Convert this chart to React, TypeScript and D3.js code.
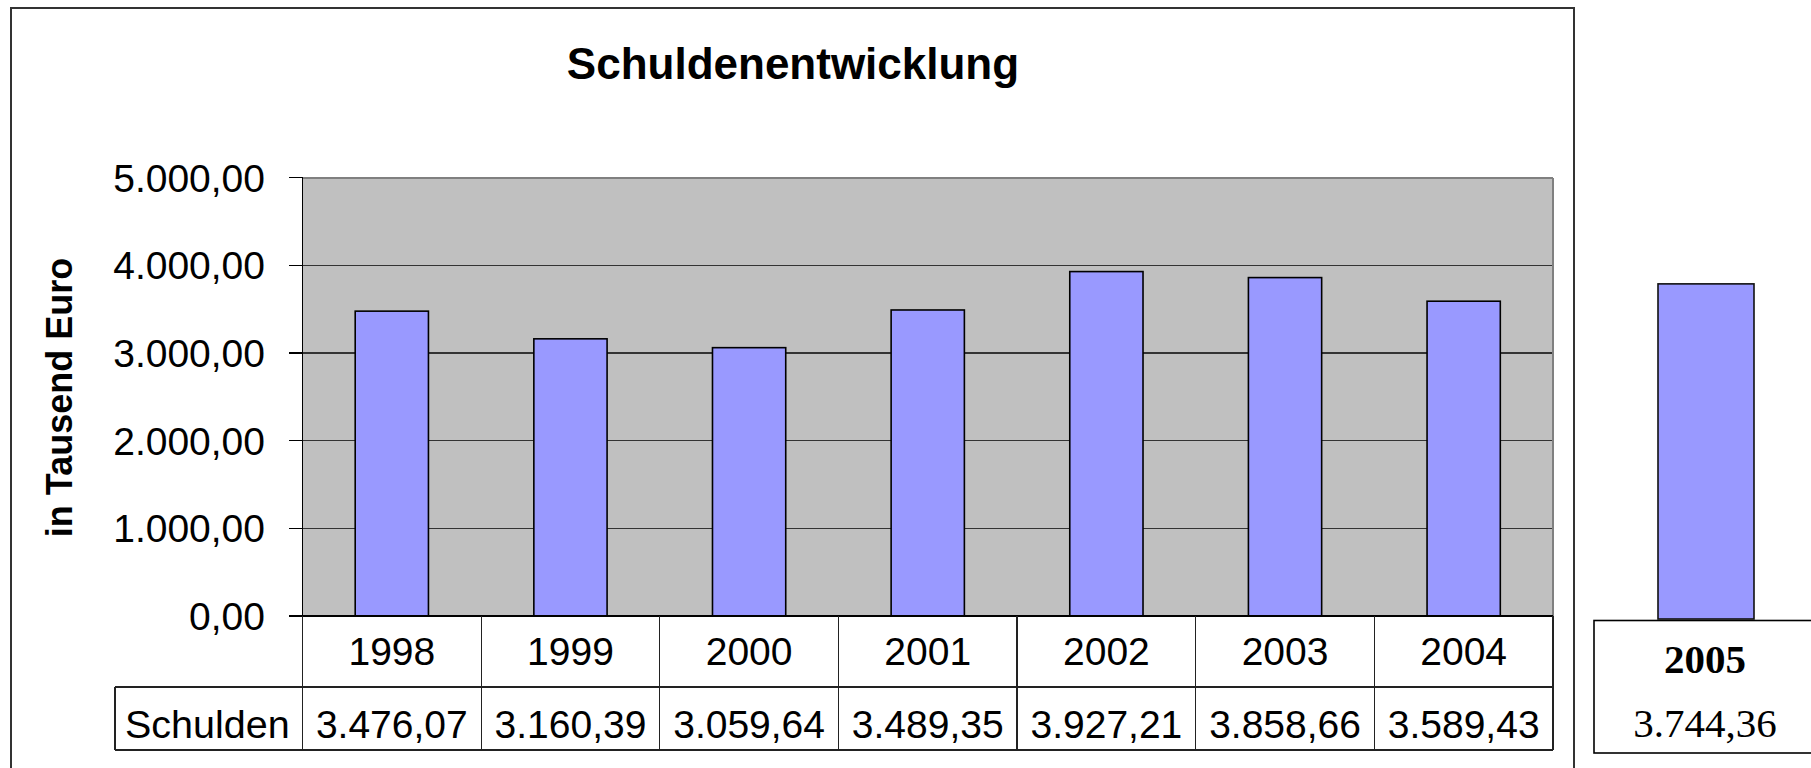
import React from 'react';
import * as d3 from 'd3';

const TITLE = 'Schuldenentwicklung';
const Y_LABEL = 'in Tausend Euro';
const ROW_LABEL = 'Schulden';
const YEARS = ['1998', '1999', '2000', '2001', '2002', '2003', '2004'];
const SCHULDEN = [3476.07, 3160.39, 3059.64, 3489.35, 3927.21, 3858.66, 3589.43];
const Y_TICKS = [0, 1000, 2000, 3000, 4000, 5000];
const EXTRA_YEAR = ['2005'];
const EXTRA_VALUE = [3744.36];

const W = 1811;
const H = 768;
const SANS = '"Liberation Sans", Arial, sans-serif';
const SERIF = '"Liberation Serif", "Times New Roman", serif';

const de = d3.formatLocale({ decimal: ',', thousands: '.', grouping: [3], currency: ['', ' €'] });
const fmt = de.format(',.2f');

const App: React.FC = () => {
  // main plot area
  const left = 302.5, right = 1553, top = 177.5, bottom = 616;
  const rowYear = 687, rowVal = 750, labelLeft = 115;

  const x = d3.scaleBand<string>().domain(YEARS).range([left, right]).padding(0);
  const y = d3.scaleLinear().domain([0, 5000]).range([bottom, top]);
  const barW = x.bandwidth() * 0.41;

  // separate 2005 panel
  const x2 = d3.scaleBand<string>().domain(EXTRA_YEAR).range([1594, 1818]).padding(0);
  const y2 = d3.scaleLinear().domain([0, 5000]).range([619, 619 - 5 * 89.5]);
  const bar2W = 96;

  const bounds = [...YEARS.map((d) => x(d) as number), right];

  return (
    <svg width={W} height={H} style={{ position: 'absolute', left: 0, top: 0, background: '#fff' }}>
      {/* chart frame */}
      <rect x={11} y={8} width={1563} height={775} fill="#fff" stroke="#333" strokeWidth={2} />

      <text x={793} y={79} textAnchor="middle" fontFamily={SANS} fontWeight="bold" fontSize={44}>
        {TITLE}
      </text>

      {/* plot background */}
      <rect x={left} y={top} width={right - left} height={bottom - top} fill="#C0C0C0" />
      <g shapeRendering="crispEdges">
        {Y_TICKS.filter((t) => t > 0 && t < 5000).map((t) => (
          <line key={t} x1={left} x2={right} y1={y(t)} y2={y(t)} stroke="#333" strokeWidth={1.2} />
        ))}
        <line x1={left} x2={right} y1={top} y2={top} stroke="#808080" strokeWidth={2} />
        <line x1={right} x2={right} y1={top} y2={bottom} stroke="#808080" strokeWidth={2} />
      </g>

      {/* bars */}
      {YEARS.map((d, i) => {
        const cx = (x(d) as number) + x.bandwidth() / 2;
        return (
          <rect
            key={d}
            x={cx - barW / 2}
            y={y(SCHULDEN[i])}
            width={barW}
            height={y(0) - y(SCHULDEN[i])}
            fill="#9999FF"
            stroke="#000"
            strokeWidth={1.6}
          />
        );
      })}

      {/* y axis */}
      <g shapeRendering="crispEdges">
        <line x1={left} x2={left} y1={top} y2={bottom} stroke="#000" strokeWidth={1.2} />
        <line x1={289} x2={right} y1={bottom} y2={bottom} stroke="#000" strokeWidth={1.2} />
        {Y_TICKS.map((t) => (
          <line key={t} x1={289} x2={left} y1={y(t)} y2={y(t)} stroke="#000" strokeWidth={1.2} />
        ))}
      </g>
      {Y_TICKS.map((t) => (
        <text key={t} x={265} y={y(t) + 14} textAnchor="end" fontFamily={SANS} fontSize={39}>
          {fmt(t)}
        </text>
      ))}
      <text
        transform={`translate(72,397.5) rotate(-90)`}
        textAnchor="middle"
        fontFamily={SANS}
        fontWeight="bold"
        fontSize={36}
      >
        {Y_LABEL}
      </text>

      {/* data table */}
      <g shapeRendering="crispEdges" stroke="#222" strokeWidth={1.2}>
        {bounds.map((bx, i) => (
          <line key={i} x1={bx} x2={bx} y1={bottom} y2={rowVal} />
        ))}
        <line x1={labelLeft} x2={labelLeft} y1={rowYear} y2={rowVal} />
        <line x1={labelLeft} x2={right} y1={rowYear} y2={rowYear} />
        <line x1={labelLeft} x2={right} y1={rowVal} y2={rowVal} />
      </g>
      {YEARS.map((d, i) => {
        const cx = (x(d) as number) + x.bandwidth() / 2;
        return (
          <g key={d} fontFamily={SANS} fontSize={39} textAnchor="middle">
            <text x={cx} y={665}>{d}</text>
            <text x={cx} y={738}>{fmt(SCHULDEN[i])}</text>
          </g>
        );
      })}
      <text x={125} y={738} fontFamily={SANS} fontSize={39.5}>
        {ROW_LABEL}
      </text>

      {/* 2005 panel */}
      {EXTRA_YEAR.map((d, i) => {
        const cx = (x2(d) as number) + x2.bandwidth() / 2;
        return (
          <g key={d}>
            <rect
              x={cx - bar2W / 2}
              y={y2(EXTRA_VALUE[i])}
              width={bar2W}
              height={y2(0) - y2(EXTRA_VALUE[i])}
              fill="#9999FF"
              stroke="#111"
              strokeWidth={1.6}
            />
            <rect
              x={x2(d) as number}
              y={620.5}
              width={x2.bandwidth()}
              height={132.5}
              fill="#fff"
              stroke="#000"
              strokeWidth={1.6}
            />
            <text x={cx - 1} y={673} textAnchor="middle" fontFamily={SERIF} fontWeight="bold" fontSize={41}>
              {d}
            </text>
            <text x={cx - 1} y={737} textAnchor="middle" fontFamily={SERIF} fontSize={41}>
              {fmt(EXTRA_VALUE[i])}
            </text>
          </g>
        );
      })}
    </svg>
  );
};

export default App;
